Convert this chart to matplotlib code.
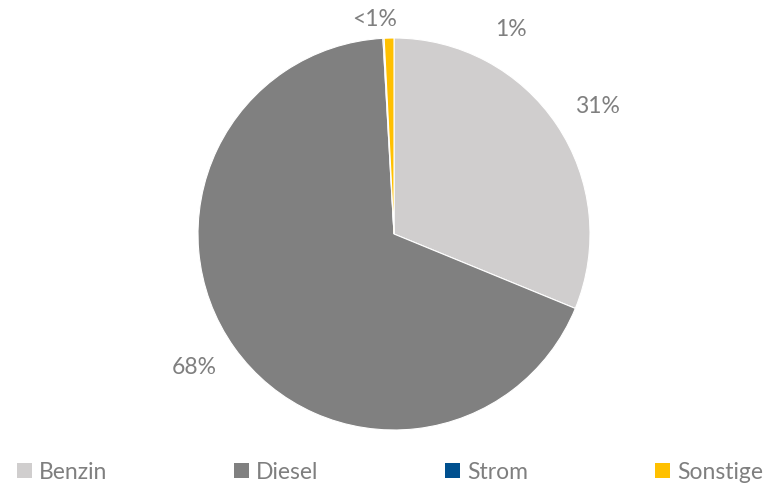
import matplotlib
matplotlib.use("Agg")
import matplotlib.pyplot as plt
from matplotlib.patches import Patch

plt.rcParams['font.family'] = ['Lato', 'DejaVu Sans']

# Data
categories = ["Benzin", "Diesel", "Strom", "Sonstige"]
shares = [31.2, 67.9, 0.1, 0.8]
label_texts = ["31%", "68%", "<1%", "1%"]
colours = ['#D0CECE', '#808080', '#00508F', '#FFC000']
text_grey = '#7F7F7F'

fig = plt.figure(figsize=(7.71, 4.86), dpi=100)
ax = fig.add_axes([198 / 771, 56 / 486, 392 / 771, 392 / 486])

wedges, _ = ax.pie(shares, colors=colours, startangle=90, counterclock=False,
                   radius=1, wedgeprops=dict(edgecolor='white', linewidth=0.8))
ax.set_xlim(-1, 1)
ax.set_ylim(-1, 1)
ax.set_aspect('equal')
ax.axis('off')

# label positions outside the pie (Excel-style placement)
label_pos = [(1.036, 0.648), (-1.02, -0.679), (-0.097, 1.092), (0.597, 1.041)]
for txt, (x, y) in zip(label_texts, label_pos):
    ax.text(x, y, txt, ha='center', va='center', fontsize=16.5,
            color=text_grey, clip_on=False)

handles = [Patch(facecolor=c, edgecolor='none') for c in colours]
fig.legend(handles, categories, loc='center left', ncol=4, mode='expand',
           bbox_to_anchor=(8 / 771, 14 / 486, 764 / 771, 0), frameon=False,
           fontsize=16.5, labelcolor=text_grey, handlelength=0.65, handleheight=0.65,
           handletextpad=0.3, borderaxespad=0)

fig.savefig("out.png", dpi=100)
